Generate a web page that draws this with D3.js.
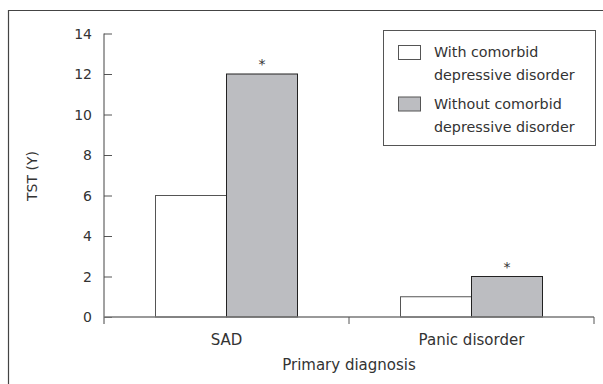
<!DOCTYPE html>
<html><head><meta charset="utf-8">
<script src="https://cdn.jsdelivr.net/npm/d3@7"></script>
<style>body{margin:0;background:#fff}svg{display:block}text{font-family:"DejaVu Sans",sans-serif;fill:#333}</style>
</head><body>
<svg id="c" width="603" height="384"></svg>
<script>
const categories = ["SAD", "Panic disorder"];
const seriesNames = ["With comorbid depressive disorder", "Without comorbid depressive disorder"];
const withComorbid = [6, 1];
const withoutComorbid = [12, 2];
const significant = [true, true];
const yTicks = [0, 2, 4, 6, 8, 10, 12, 14];
const legendLines = [["With comorbid", "depressive disorder"], ["Without comorbid", "depressive disorder"]];

const svg = d3.select("#c");
const colors = ["#ffffff", "#bcbdc1"];
const m = {left: 104, right: 594, top: 33.5, bottom: 317};

// frame
svg.append("path").attr("d", "M8.5,400 V10.5 H620").attr("fill", "none").attr("stroke", "#444").attr("stroke-width", 1.2);

const x0 = d3.scaleBand().domain(categories).range([m.left, m.right]);
const x1 = d3.scaleBand().domain([0, 1]).range([0, 142]);
const y = d3.scaleLinear().domain([0, 14]).range([m.bottom, m.top]);

const g = svg.append("g");
const rows = categories.map((c, i) => ({c, v: [withComorbid[i], withoutComorbid[i]], sig: significant[i]}));
rows.forEach(r => {
  const gx = x0(r.c) + (x0.bandwidth() - 142) / 2;
  r.v.forEach((v, j) => {
    g.append("rect").attr("x", gx + x1(j)).attr("width", x1.bandwidth())
      .attr("y", y(v)).attr("height", y(0) - y(v))
      .attr("fill", colors[j]).attr("stroke", j ? "#222" : "#555").attr("stroke-width", 1);
  });
  if (r.sig) {
    g.append("text").attr("x", gx + x1(1) + x1.bandwidth() / 2).attr("y", y(r.v[1]) - 5)
      .attr("text-anchor", "middle").style("font-size", "14px").text("*");
  }
});

// y axis
const yAxis = d3.axisRight(y).tickValues(yTicks).tickSize(8).tickFormat("");
const ya = svg.append("g").attr("transform", `translate(${m.left},0)`).call(yAxis);
ya.select(".domain").remove();
ya.selectAll("line").attr("stroke", "#555");
svg.append("line").attr("x1", m.left).attr("x2", m.left).attr("y1", m.top).attr("y2", m.bottom + 7).attr("stroke", "#444");
svg.selectAll(".ylab").data(yTicks).enter().append("text").attr("class", "ylab")
  .attr("x", m.left - 12).attr("y", d => y(d) + 5).attr("text-anchor", "end").style("font-size", "14px").text(d => d);

// x axis
svg.append("line").attr("x1", m.left).attr("x2", m.right).attr("y1", m.bottom).attr("y2", m.bottom).attr("stroke", "#777").attr("stroke-width", 1.5);
const bounds = [x0(categories[1]), m.right];
bounds.forEach(b => svg.append("line").attr("x1", b).attr("x2", b).attr("y1", m.bottom).attr("y2", m.bottom + 7).attr("stroke", "#555"));
categories.forEach(c => svg.append("text").attr("x", x0(c) + x0.bandwidth() / 2).attr("y", 345)
  .attr("text-anchor", "middle").style("font-size", "15px").text(c));
svg.append("text").attr("x", 349).attr("y", 370).attr("text-anchor", "middle").style("font-size", "15px").text("Primary diagnosis");
svg.append("text").attr("transform", "translate(37,176) rotate(-90)").attr("text-anchor", "middle").style("font-size", "14px").text("TST (Y)");

// legend
const lg = svg.append("g");
lg.append("rect").attr("x", 383.5).attr("y", 30.5).attr("width", 212).attr("height", 115).attr("fill", "#fff").attr("stroke", "#555");
legendLines.forEach((lines, i) => {
  const top = 45.5 + i * 51.5;
  lg.append("rect").attr("x", 398.5).attr("y", top).attr("width", 22).attr("height", 14).attr("fill", colors[i]).attr("stroke", "#555");
  lines.forEach((t, k) => lg.append("text").attr("x", 434).attr("y", 57 + i * 51.5 + k * 23).style("font-size", "14.3px").text(t));
});
</script>
</body></html>
